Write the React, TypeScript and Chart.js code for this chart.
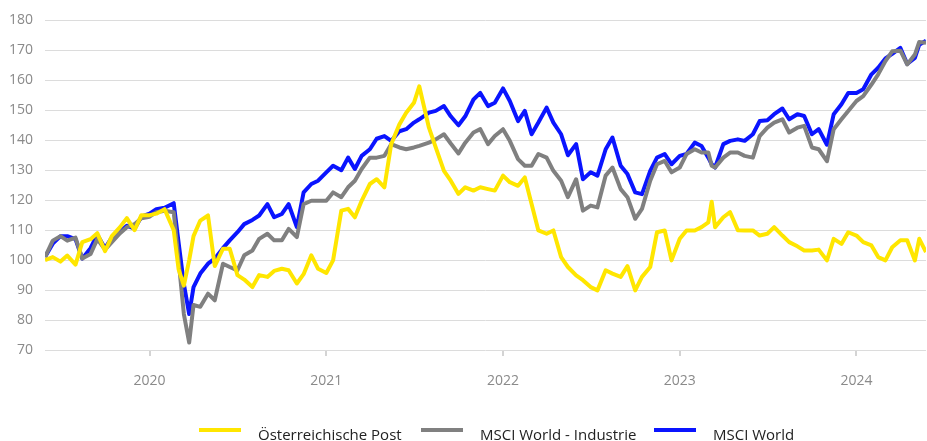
import React, { useEffect, useRef } from "react";
import { Chart, registerables } from "chart.js";

Chart.register(...registerables);

// ---- Data ----
const dates: string[] = [
  "2019-05-30", "2019-06-15", "2019-07-01", "2019-07-15", "2019-08-01", "2019-08-15", "2019-09-01", "2019-09-15",
  "2019-10-01", "2019-10-15", "2019-11-01", "2019-11-15", "2019-12-01", "2019-12-15",
  "2020-01-01", "2020-01-15", "2020-02-01", "2020-02-20", "2020-03-01", "2020-03-12", "2020-03-23", "2020-04-01",
  "2020-04-15", "2020-05-01", "2020-05-15", "2020-06-01", "2020-06-15", "2020-07-01", "2020-07-15", "2020-08-01",
  "2020-08-15", "2020-09-01", "2020-09-15", "2020-10-01", "2020-10-15", "2020-11-01", "2020-11-15", "2020-12-01",
  "2020-12-15",
  "2021-01-01", "2021-01-15", "2021-02-01", "2021-02-15", "2021-03-01", "2021-03-15", "2021-04-01", "2021-04-15",
  "2021-05-01", "2021-05-15", "2021-06-01", "2021-06-15", "2021-07-01", "2021-07-12", "2021-08-01", "2021-08-15",
  "2021-09-01", "2021-09-15", "2021-10-01", "2021-10-15", "2021-11-01", "2021-11-15", "2021-12-01", "2021-12-15",
  "2022-01-01", "2022-01-15", "2022-02-01", "2022-02-15", "2022-03-01", "2022-03-15", "2022-04-01", "2022-04-15",
  "2022-05-01", "2022-05-15", "2022-06-01", "2022-06-15", "2022-07-01", "2022-07-15", "2022-08-01", "2022-08-15",
  "2022-09-01", "2022-09-15", "2022-10-01", "2022-10-15", "2022-11-01", "2022-11-15", "2022-12-01", "2022-12-15",
  "2023-01-01", "2023-01-15", "2023-02-01", "2023-02-15", "2023-03-01", "2023-03-08", "2023-03-15", "2023-04-01",
  "2023-04-15", "2023-05-01", "2023-05-15", "2023-06-01", "2023-06-15", "2023-07-01", "2023-07-15", "2023-08-01",
  "2023-08-15", "2023-09-01", "2023-09-15", "2023-10-01", "2023-10-15", "2023-11-01", "2023-11-15", "2023-12-01",
  "2023-12-15",
  "2024-01-01", "2024-01-15", "2024-02-01", "2024-02-15", "2024-03-01", "2024-03-15", "2024-04-01", "2024-04-15",
  "2024-05-01", "2024-05-10", "2024-05-24",
];

const oesterreichischePost: number[] = [
  100, 101, 99.5, 101.5, 98.5, 106, 107, 109, 103, 108, 111, 114, 110, 115,
  115, 115.5, 117, 110, 97, 91.5, 100, 108, 113.2, 114.9, 98, 103.8, 103.8, 95, 93.5, 91, 95, 94.4, 96.4, 97.1,
  96.6, 92.2, 95.3, 101.6, 97.1,
  95.7, 99.9, 116.5, 117.1, 114.3, 119.8, 125.4, 127, 124.3, 138.7, 145.3, 149.2, 152.5, 158, 144.2, 137.6, 129.8,
  126.5, 122.1, 124.3, 123.2, 124.3, 123.7, 123.2,
  128.2, 126, 124.8, 127.6, 118.7, 109.9, 108.8, 109.9, 101, 97.7, 94.9, 93.3, 91, 89.9, 96.6, 95.5, 94.4, 98,
  89.9, 94.4, 97.7, 109.3, 109.9, 99.9,
  107.1, 109.9, 109.9, 111, 112.6, 119.5, 111, 114.3, 116, 110, 109.9, 109.9, 108.2, 108.8, 111, 108.2, 106, 104.6,
  103.2, 103.2, 103.5, 99.9, 107.1, 105.4, 109.3,
  108.2, 106, 104.9, 101, 99.9, 104.3, 106.6, 106.6, 99.9, 107.1, 102.7,
];

const msciWorldIndustrie: number[] = [
  101, 106.5, 108, 106.5, 107.5, 100.5, 102, 107, 103.5, 106, 109, 111, 112, 114,
  114.5, 116, 116.5, 116, 100, 82, 72.5, 85, 84.4, 88.8, 86.6, 98.8, 97.7, 96.6, 101.6, 103.2, 107.1, 108.8, 106.6,
  106.6, 110.4, 107.7, 118.7, 119.8, 119.8,
  119.8, 122.6, 121, 124.3, 126.5, 130.4, 134.2, 134.2, 134.8, 138.7, 137.6, 137, 137.6, 138.1, 139.2, 140.3, 142,
  138.9, 135.6, 139.2, 142.6, 143.7, 138.7, 141.4,
  143.7, 139.8, 133.7, 131.5, 131.5, 135.4, 134.2, 129.8, 126.5, 121, 127, 116.5, 118.2, 117.6, 128.2, 130.9, 123.7,
  121, 113.8, 117.1, 126.5, 132, 133.1, 129.3,
  130.9, 135.4, 137, 135.9, 135.9, 131.5, 130.9, 134.2, 135.9, 135.9, 134.8, 134.2, 141.4, 144.2, 145.9, 147, 142.6,
  144.2, 144.8, 137.6, 137, 133, 143.7, 147, 149.8,
  153.1, 154.7, 158.6, 162, 166.4, 169.7, 169.9, 165.3, 168.6, 172.8, 172.5,
];

const msciWorld: number[] = [
  101, 105.5, 108, 108, 107, 100.5, 104, 108.5, 104, 107.5, 109.5, 111.5, 110.5, 114.5,
  115.5, 117, 117.5, 119, 106, 92, 82, 91, 95.5, 98.8, 100.5, 104, 106.6, 109.3, 112, 113.4, 114.9, 118.7, 114.3,
  115.4, 118.7, 111, 122.6, 125.4, 126.5,
  129.3, 131.5, 130, 134.2, 130.4, 134.8, 137, 140.5, 141.4, 139.8, 143, 143.7, 145.9, 147, 149.2, 149.8, 151.4,
  148, 145, 148, 153.6, 155.8, 151.4, 152.5,
  157.3, 153.1, 146.4, 149.8, 142, 145.9, 150.9, 145.9, 142, 135, 138.7, 127, 129.3, 128.2, 137, 140.9, 131.5,
  128.7, 122.6, 122, 129.8, 134.2, 135.4, 132,
  134.8, 135.4, 139.2, 138.1, 134.2, 132, 130.9, 138.7, 139.8, 140.3, 139.8, 142, 146.4, 146.7, 148.7, 150.6, 147,
  148.7, 148.1, 142, 143.7, 138.5, 148.7, 152, 155.8,
  155.8, 157, 162, 164.2, 167.3, 168.8, 170.8, 165.5, 167.5, 171.9, 173.2,
];

const seriesLabels: string[] = ["Österreichische Post", "MSCI World - Industrie", "MSCI World"];
const seriesColors: string[] = ["#ffe600", "#808080", "#0a14ff"];
const yearTicks: number[] = [2020, 2021, 2022, 2023, 2024];
const yMin = 70;
const yMax = 180;
const yStep = 10;

function toYear(d: string): number {
  const [y, m, day] = d.split("-").map(Number);
  const start = Date.UTC(y, 0, 1);
  const end = Date.UTC(y + 1, 0, 1);
  return y + (Date.UTC(y, m - 1, day) - start) / (end - start);
}

const FONT = "'Open Sans', 'Noto Sans', sans-serif";

// legend layout (pixels)
const legendLineX = [199, 421, 654];
const legendTextX = [258, 480, 713];

export default function App() {
  const canvasRef = useRef<HTMLCanvasElement | null>(null);

  useEffect(() => {
    if (!canvasRef.current) return;
    const xs = dates.map(toYear);
    const allSeries = [oesterreichischePost, msciWorldIndustrie, msciWorld];
    const chart = new Chart(canvasRef.current, {
      type: "line",
      data: {
        datasets: allSeries.map((vals, i) => ({
          label: seriesLabels[i],
          data: vals.map((v, j) => ({ x: xs[j], y: v })),
          borderColor: seriesColors[i],
          backgroundColor: seriesColors[i],
          borderWidth: 4,
          pointRadius: 0,
          tension: 0,
          borderJoinStyle: "round" as const,
          fill: false,
        })),
      },
      options: {
        animation: false,
        responsive: false,
        maintainAspectRatio: false,
        parsing: false as any,
        layout: { padding: { top: 19, right: 1, bottom: 50, left: 0 } },
        plugins: { legend: { display: false }, tooltip: { enabled: false } },
        scales: {
          x: {
            type: "linear",
            min: xs[0],
            max: xs[xs.length - 1],
            afterBuildTicks: (s: any) => {
              s.ticks = yearTicks.map((v) => ({ value: v }));
            },
            afterFit: (s: any) => {
              s.height = 41;
            },
            border: { display: false },
            grid: {
              drawOnChartArea: false,
              drawTicks: true,
              tickLength: 6,
              color: "#d4d4d4",
              lineWidth: 2,
            },
            ticks: {
              padding: 17,
              color: "#8a8a8a",
              font: { family: FONT, size: 14 },
              maxRotation: 0,
              autoSkip: false,
              callback: (v: any) => String(v),
            },
          },
          y: {
            min: yMin,
            max: yMax,
            afterFit: (s: any) => {
              s.width = 45;
            },
            border: { display: false },
            grid: { color: "#dcdcdc", lineWidth: 1, drawTicks: false },
            ticks: {
              stepSize: yStep,
              padding: 12,
              color: "#8a8a8a",
              font: { family: FONT, size: 14 },
            },
          },
        },
      },
    });
    return () => chart.destroy();
  }, []);

  return (
    <div style={{ position: "absolute", left: 0, top: 0, width: 927, height: 441, overflow: "hidden", background: "#fff" }}>
      <canvas ref={canvasRef} width={927} height={441} style={{ display: "block", width: 927, height: 441 }} />
      {seriesLabels.map((label, i) => (
        <React.Fragment key={label}>
          <div
            style={{
              position: "absolute",
              left: legendLineX[i],
              top: 428,
              width: 42,
              height: 4,
              background: seriesColors[i],
            }}
          />
          <span
            style={{
              position: "absolute",
              left: legendTextX[i],
              top: 424,
              fontFamily: FONT,
              fontSize: 15,
              lineHeight: "20px",
              color: "#222",
              whiteSpace: "nowrap",
            }}
          >
            {label}
          </span>
        </React.Fragment>
      ))}
    </div>
  );
}
